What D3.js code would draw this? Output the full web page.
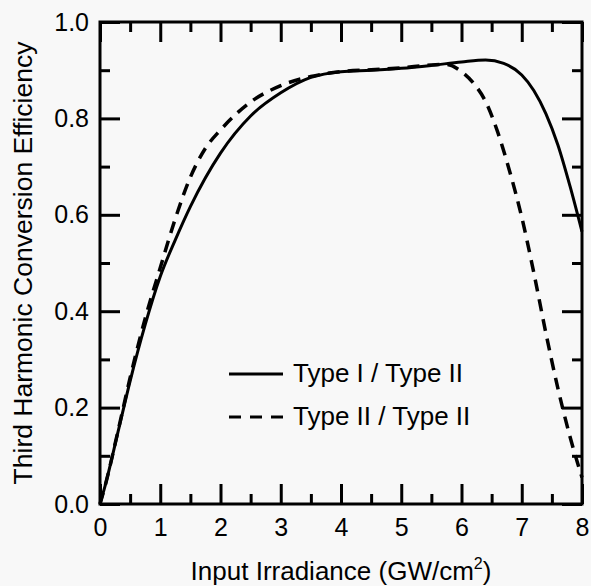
<!DOCTYPE html>
<html>
<head>
<meta charset="utf-8">
<script src="https://cdn.jsdelivr.net/npm/d3@7"></script>
<style>
  body { margin: 0; background: #f8f8f8; }
  svg { display: block; }
  text { font-family: "Liberation Sans", Arial, Helvetica, sans-serif; fill: #000; }
</style>
</head>
<body>
<div id="chart"></div>
<script>
// Data
var solidX = [0, 0.1, 0.3, 0.5, 0.75, 1.0, 1.25, 1.5, 2.0, 2.5, 3.0, 3.5, 4.0, 4.5, 5.0, 5.5, 6.0, 6.4, 6.7, 7.0, 7.2, 7.4, 7.6, 7.8, 8.0];
var solidY = [0, 0.045, 0.15, 0.255, 0.372, 0.472, 0.548, 0.617, 0.728, 0.805, 0.853, 0.885, 0.897, 0.900, 0.904, 0.910, 0.917, 0.921, 0.914, 0.890, 0.858, 0.810, 0.745, 0.660, 0.565];

var dashX = [0, 0.1, 0.3, 0.5, 0.75, 1.0, 1.25, 1.5, 1.75, 2.0, 2.5, 3.0, 3.5, 4.0, 4.5, 5.0, 5.5, 5.75, 6.0, 6.2, 6.4, 6.6, 6.8, 7.0, 7.2, 7.4, 7.6, 7.8, 8.0];
var dashY = [0, 0.045, 0.152, 0.262, 0.385, 0.49, 0.592, 0.678, 0.738, 0.776, 0.834, 0.868, 0.887, 0.897, 0.901, 0.905, 0.911, 0.912, 0.897, 0.873, 0.835, 0.772, 0.69, 0.595, 0.48, 0.355, 0.24, 0.14, 0.055];

var xMajor = [0, 1, 2, 3, 4, 5, 6, 7, 8];
var xMinor = [0.5, 1.5, 2.5, 3.5, 4.5, 5.5, 6.5, 7.5];
var yMajor = [0, 0.2, 0.4, 0.6, 0.8, 1.0];
var yMinor = [0.1, 0.3, 0.5, 0.7, 0.9];

var legendLabels = ["Type I / Type II", "Type II / Type II"];

// Placement
var width = 591;
var height = 586;
var plotLeft = 100, plotRight = 582, plotTop = 22, plotBottom = 504;
var majorLen = 20, minorLen = 10;

var svg = d3.select("#chart")
  .append("svg")
  .attr("width", width)
  .attr("height", height);

var xScale = d3.scaleLinear().domain([0, 8]).range([plotLeft, plotRight]);
var yScale = d3.scaleLinear().domain([0, 1]).range([plotBottom, plotTop]);

// Axis helper: draws ticks inward, optionally with labels
function drawAxis(axis, transform) {
  var g = svg.append("g")
    .attr("transform", transform)
    .call(axis);
  g.select(".domain").remove();
  g.selectAll(".tick line").attr("stroke", "#000").attr("stroke-width", 3);
  g.selectAll(".tick text")
    .attr("font-size", 25)
    .attr("font-family", "Liberation Sans, Arial, sans-serif");
  return g;
}

// Bottom
drawAxis(d3.axisBottom(xScale).tickValues(xMajor).tickSize(-majorLen).tickPadding(14)
  .tickFormat(d3.format("d")), "translate(0," + plotBottom + ")");
drawAxis(d3.axisBottom(xScale).tickValues(xMinor).tickSize(-minorLen).tickFormat(""),
  "translate(0," + plotBottom + ")");
// Top
drawAxis(d3.axisTop(xScale).tickValues(xMajor).tickSize(-majorLen).tickFormat(""),
  "translate(0," + plotTop + ")");
drawAxis(d3.axisTop(xScale).tickValues(xMinor).tickSize(-minorLen).tickFormat(""),
  "translate(0," + plotTop + ")");
// Left
drawAxis(d3.axisLeft(yScale).tickValues(yMajor).tickSize(-majorLen).tickPadding(11)
  .tickFormat(d3.format(".1f")), "translate(" + plotLeft + ",0)");
drawAxis(d3.axisLeft(yScale).tickValues(yMinor).tickSize(-minorLen).tickFormat(""),
  "translate(" + plotLeft + ",0)");
// Right
drawAxis(d3.axisRight(yScale).tickValues(yMajor).tickSize(-majorLen).tickFormat(""),
  "translate(" + plotRight + ",0)");
drawAxis(d3.axisRight(yScale).tickValues(yMinor).tickSize(-minorLen).tickFormat(""),
  "translate(" + plotRight + ",0)");

// Frame
svg.append("rect")
  .attr("x", plotLeft)
  .attr("y", plotTop)
  .attr("width", plotRight - plotLeft)
  .attr("height", plotBottom - plotTop)
  .attr("fill", "none")
  .attr("stroke", "#000")
  .attr("stroke-width", 3);

// Curves
var line = d3.line()
  .x(function(d) { return xScale(d[0]); })
  .y(function(d) { return yScale(d[1]); })
  .curve(d3.curveMonotoneX);

var solidData = solidX.map(function(x, i) { return [x, solidY[i]]; });
var dashData = dashX.map(function(x, i) { return [x, dashY[i]]; });

svg.append("path")
  .datum(solidData)
  .attr("d", line)
  .attr("fill", "none")
  .attr("stroke", "#000")
  .attr("stroke-width", 3);

svg.append("path")
  .datum(dashData)
  .attr("d", line)
  .attr("fill", "none")
  .attr("stroke", "#000")
  .attr("stroke-width", 3.5)
  .attr("stroke-dasharray", "12,8");

// Legend
var legend = svg.append("g").attr("transform", "translate(229,374)");
legendLabels.forEach(function(label, i) {
  var row = legend.append("g").attr("transform", "translate(0," + (i * 43) + ")");
  row.append("line")
    .attr("x1", 0).attr("x2", 54)
    .attr("y1", 0).attr("y2", 0)
    .attr("stroke", "#000")
    .attr("stroke-width", 3)
    .attr("stroke-dasharray", i === 0 ? null : "12,9");
  row.append("text")
    .attr("x", 64)
    .attr("y", 8)
    .attr("font-size", 26)
    .text(label);
});

// Axis titles
var xTitle = svg.append("text")
  .attr("x", (plotLeft + plotRight) / 2)
  .attr("y", 580)
  .attr("text-anchor", "middle")
  .attr("font-size", 26)
  .text("Input Irradiance (GW/cm");
xTitle.append("tspan").attr("font-size", 16).attr("dy", -11).text("2");
xTitle.append("tspan").attr("dy", 11).text(")");

svg.append("text")
  .attr("transform", "translate(32,263)rotate(-90)")
  .attr("text-anchor", "middle")
  .attr("font-size", 26.5)
  .text("Third Harmonic Conversion Efficiency");
</script>
</body>
</html>
